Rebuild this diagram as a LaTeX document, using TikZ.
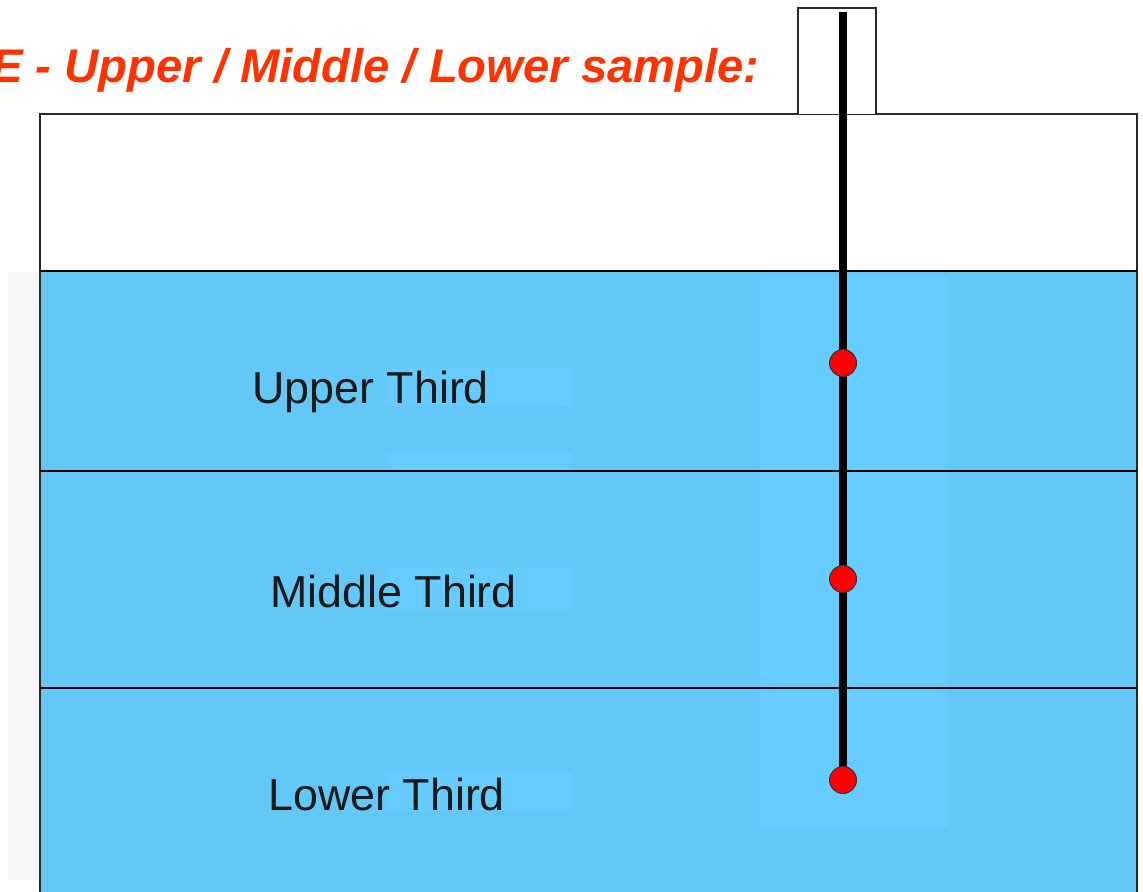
\documentclass[tikz,border=0pt]{standalone}
\usepackage{fontspec}
\setmainfont{Liberation Sans}
\definecolor{water}{RGB}{99,199,247}
\definecolor{waterlight}{RGB}{102,204,255}
\definecolor{titlered}{RGB}{255,51,0}
\definecolor{dotred}{RGB}{255,0,0}
\definecolor{edge}{RGB}{40,40,40}
\definecolor{strip}{RGB}{247,247,247}
\begin{document}
\begin{tikzpicture}[x=0.5pt,y=-0.5pt,
  wall/.style={draw=edge,line width=0.75pt},
  layerline/.style={draw=black,line width=0.6pt},
  label/.style={font=\fontsize{22.4pt}{26pt}\selectfont,text=black!90,anchor=base west,inner sep=0pt},
  sampledot/.style={circle,fill=dotred,draw=black!80,line width=0.5pt,minimum size=13.5pt,inner sep=0pt},
  rod/.style={draw=black,line width=3.6pt}]
\useasboundingbox (0,0) rectangle (1143,891);
\clip (0,0) rectangle (1143,891);
\fill[white] (0,0) rectangle (1143,891);
% faint strip on the left
\fill[strip] (8,272) rectangle (40,880);
% container
\fill[white] (40,114) rectangle (1137,271);
\fill[water] (40,271) rectangle (1137,900);
\fill[waterlight] (760,277) rectangle (948,828);
\fill[waterlight] (385,368) rectangle (572,406);
\fill[waterlight] (385,453) rectangle (572,470);
\fill[waterlight] (385,568) rectangle (572,610);
\fill[waterlight] (385,772) rectangle (572,810);
\draw[wall] (40,900) -- (40,114) -- (1137,114) -- (1137,900);
\draw[layerline] (40,271) -- (1137,271);
\draw[layerline] (40,471) -- (1137,471);
\draw[layerline] (40,688) -- (1137,688);
% tube cap
\draw[wall,fill=white] (798,114) -- (798,8) -- (876,8) -- (876,114);
% title
\node[font=\fontsize{23.6pt}{28pt}\selectfont\bfseries\itshape,text=titlered,anchor=base east,inner sep=0pt] (title) at (760,82) {E - Upper / Middle / Lower sample:};
% labels
\node[label] (upper) at (252,403) {Upper Third};
\node[label] (middle) at (270,607) {Middle Third};
\node[label] (lower) at (268,810) {Lower Third};
% rod and sample points
\coordinate (rodtop) at (843,12);
\coordinate (p1) at (843,363);
\coordinate (p2) at (843,579);
\coordinate (p3) at (843,780);
\draw[rod] (rodtop) -- (p3);
\node[sampledot] (d1) at (p1) {};
\node[sampledot] (d2) at (p2) {};
\node[sampledot] (d3) at (p3) {};
\end{tikzpicture}
\end{document}
